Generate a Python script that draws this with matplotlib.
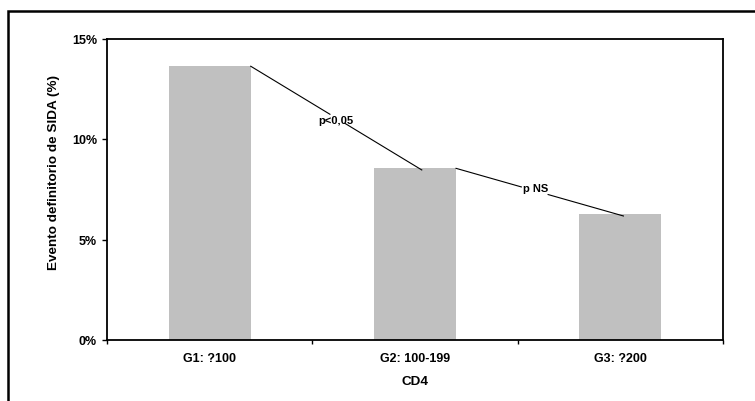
import matplotlib
matplotlib.use("Agg")
import matplotlib.pyplot as plt
from matplotlib.patches import Rectangle
from matplotlib.ticker import FixedLocator, FuncFormatter

# ---- data ----
categories = ["G1: ?100", "G2: 100-199", "G3: ?200"]
values = [13.62, 8.54, 6.25]
y_ticks = [0, 5, 10, 15]
comparisons = ["p<0,05", "p NS"]

BAR_COLOR = "#C0C0C0"
FONT = "Liberation Sans"
plt.rcParams["font.family"] = [FONT, "DejaVu Sans"]
plt.rcParams["font.weight"] = "bold"

W, H = 755, 402
fig = plt.figure(figsize=(W / 100, H / 100), dpi=100)

# outer frame (extends beyond right/bottom edge)
fig.patches.append(Rectangle((8 / W, -0.1), 1.2, (1 - 12 / H) + 0.1,
                             transform=fig.transFigure, fill=False,
                             edgecolor="black", linewidth=1.8, zorder=0))

ax = fig.add_axes([107 / W, 1 - 341 / H, (723 - 107) / W, (341 - 39.5) / H])
x = list(range(len(categories)))
bw = 0.4
ax.bar(x, values, width=bw, color=BAR_COLOR, edgecolor="none", zorder=2)

ax.set_xlim(-0.5, len(categories) - 0.5)
ax.set_ylim(0, 15)
ax.set_yticks(y_ticks)
ax.yaxis.set_major_formatter(FuncFormatter(lambda v, p: f"{int(v)}%"))
ax.tick_params(axis="y", direction="out", length=3.6, width=1.0, pad=3.6,
               labelsize=9)
ax.set_xticks(x)
ax.set_xticklabels(categories)
ax.tick_params(axis="x", which="major", length=0, pad=9, labelsize=9)
ax.xaxis.set_minor_locator(FixedLocator([i - 0.5 for i in range(len(categories) + 1)]))
ax.tick_params(axis="x", which="minor", direction="out", length=3.2, width=1.0)
for lbl in ax.get_xticklabels() + ax.get_yticklabels():
    lbl.set_fontweight("bold")
for sp in ax.spines.values():
    sp.set_linewidth(1.3)
    sp.set_color("black")

# connector lines between bars with p-value labels
gaps = [(0.463, 0.551), (0.39, 0.55)]
ends = [1.033, 2.015]
label_offsets = [-0.11, 0.12]
for i, txt in enumerate(comparisons):
    x0, y0 = i + bw / 2, values[i]
    x1, y1 = ends[i], values[i + 1] - 0.08
    ga, gb = gaps[i]
    ax.plot([x0, x0 + ga * (x1 - x0)], [y0, y0 + ga * (y1 - y0)],
            color="black", lw=0.8, zorder=3)
    ax.plot([x0 + gb * (x1 - x0), x1], [y0 + gb * (y1 - y0), y1],
            color="black", lw=0.8, zorder=3)
    t = 0.5 if i == 0 else 0.473
    ax.text(x0 + t * (x1 - x0), y0 + t * (y1 - y0) + label_offsets[i], txt,
            ha="center", va="center", fontsize=8, fontweight="bold", zorder=4)

fig.text(54 / W, 1 - 172 / H, "Evento definitorio de SIDA (%)", rotation=90,
         ha="center", va="center", fontsize=9.7, fontweight="bold")
fig.text(415 / W, 1 - 382 / H, "CD4", ha="center", va="center",
         fontsize=9.7, fontweight="bold")

fig.savefig("out.png", dpi=100)
